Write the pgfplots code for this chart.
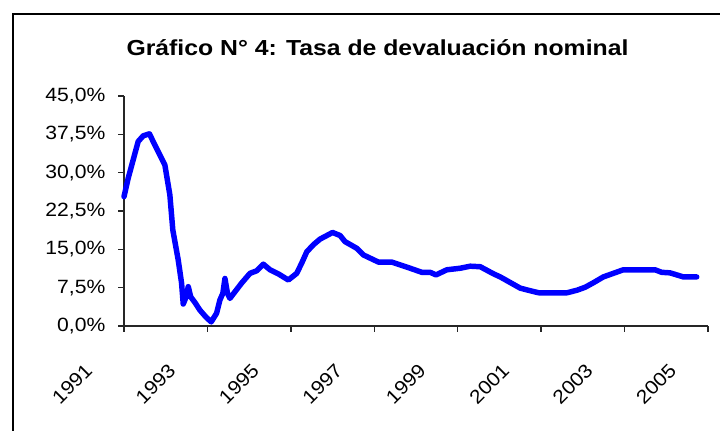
\documentclass[border=0pt]{standalone}
\usepackage{fontspec}
\setmainfont{Liberation Sans}
\newfontfamily\tickfont[FakeStretch=1.1]{Liberation Sans}
\newfontfamily\titlefont[FakeStretch=1.14]{Liberation Sans}
\usepackage{pgfplots}
\pgfplotsset{compat=1.18}
\begin{document}
\begin{tikzpicture}
\begin{scope}[x=0.75pt,y=0.75pt]
\useasboundingbox (0,0) rectangle (720,431);
\draw[line width=1.5pt] (13,-10) -- (13,417) -- (730,417);
\node[anchor=base] at (377.5,375) {\titlefont\bfseries\fontsize{16.3}{18}\selectfont Gráfico N° 4: Tasa de devaluación nominal};
\end{scope}
\begin{axis}[
  at={(93pt,78.75pt)}, anchor=south west,
  scale only axis, width=438pt, height=172.5pt,
  xmin=1991, xmax=2005, ymin=0, ymax=45,
  axis x line*=bottom, axis y line*=left,
  axis line style={-, line width=1.3pt, black!85},
  every tick/.style={black!85, line width=1.1pt},
  tick align=outside, major tick length=4.5pt,
  xtick={1991,1993,...,2005},
  xticklabels={1991,1993,1995,1997,1999,2001,2003,2005},
  ytick={0,7.5,15,22.5,30,37.5,45},
  yticklabels={{0,0\%},{7,5\%},{15,0\%},{22,5\%},{30,0\%},{37,5\%},{45,0\%}},
  ticklabel style={font=\tickfont\fontsize{14.4}{15}\selectfont},
  yticklabel style={anchor=east, xshift=-6pt},
  xticklabel style={xshift=-24pt, yshift=-24pt, rotate=45, anchor=east},
  clip=false,
]
\addplot[blue, line width=4.1pt, line join=round, line cap=round] coordinates {
(1991.00,25.3) (1991.10,28.9) (1991.22,32.5) (1991.34,36.1) (1991.46,37.2)
(1991.61,37.6) (1991.74,35.4) (1991.90,32.8) (1991.98,31.5) (1992.10,25.6)
(1992.17,18.8) (1992.30,12.9) (1992.38,8.4) (1992.42,4.3) (1992.49,5.7)
(1992.54,7.7) (1992.60,5.7) (1992.70,4.6) (1992.82,3.1) (1992.97,1.7)
(1993.09,0.8) (1993.22,2.5) (1993.30,5.1) (1993.37,6.4) (1993.42,9.3)
(1993.48,6.4) (1993.54,5.4) (1993.66,6.7) (1993.82,8.4) (1994.02,10.3)
(1994.18,10.8) (1994.34,12.1) (1994.50,11.0) (1994.70,10.2) (1994.94,9.0)
(1995.14,10.3) (1995.26,12.3) (1995.38,14.5) (1995.54,15.9) (1995.70,17.0)
(1996.00,18.3) (1996.18,17.7) (1996.30,16.5) (1996.58,15.2) (1996.74,13.9)
(1997.10,12.5) (1997.42,12.5) (1997.86,11.3) (1998.14,10.5) (1998.34,10.5)
(1998.48,10.0) (1998.74,11.0) (1999.06,11.3) (1999.30,11.7) (1999.54,11.6)
(1999.86,10.2) (2000.02,9.6) (2000.26,8.5) (2000.50,7.4) (2000.74,6.9)
(2000.94,6.5) (2001.62,6.5) (2001.86,7.0) (2002.06,7.6) (2002.26,8.5)
(2002.49,9.6) (2002.73,10.3) (2002.97,11.0) (2003.73,11.0) (2003.89,10.5)
(2004.09,10.4) (2004.25,10.0) (2004.41,9.6) (2004.73,9.6)
};
\end{axis}
\end{tikzpicture}
\end{document}
